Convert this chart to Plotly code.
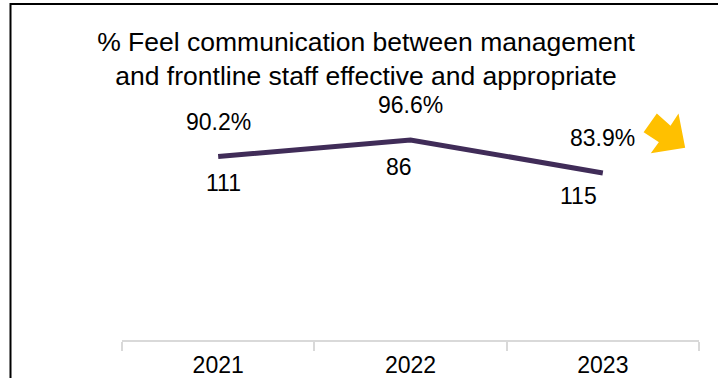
import plotly.graph_objects as go

years = ["2021", "2022", "2023"]
pct_values = [90.2, 96.6, 83.9]
counts = [111, 86, 115]
title_text = "% Feel communication between management<br>and frontline staff effective and appropriate"

# label offsets (pixels) for the count labels
count_dx = [5, -12, -24]
count_dy = [-26, -27, -23]
pct_dy = 35

W, H = 718, 378
L, R, T, B = 122, 19, 50, 38
PW, PH = W - L - R, H - T - B

def px(x):
    return (x - L) / PW

def py(y):
    return (H - B - y) / PH

fig = go.Figure()
fig.add_trace(go.Scatter(
    x=years, y=pct_values, mode="lines",
    line=dict(color="#402C58", width=5),
    hoverinfo="skip", showlegend=False,
))

font = dict(family="Liberation Sans, Arial, sans-serif", color="#000000")

for i, (v, c) in enumerate(zip(pct_values, counts)):
    fig.add_annotation(x=i, y=v, xref="x", yref="y", text=f"{v:.1f}%", showarrow=False,
                       yshift=pct_dy, font=dict(size=23, **font))
    fig.add_annotation(x=i, y=v, xref="x", yref="y", text=str(c), showarrow=False,
                       xshift=count_dx[i], yshift=count_dy[i],
                       font=dict(size=23, **font))

# yellow block arrow (decorative trend icon)
pts = [(645, 132), (660.3, 141.8), (653, 152), (684, 147), (678, 116), (670.7, 127.2), (657, 115)]
path = "M " + " L ".join(f"{px(a):.5f},{py(b):.5f}" for a, b in pts) + " Z"
fig.add_shape(type="path", path=path, xref="paper", yref="paper",
              fillcolor="#FFC000", line=dict(color="#FFC000", width=2), layer="above")

# outer frame (left and top visible)
fig.add_shape(type="rect", xref="paper", yref="paper",
              x0=px(10.5), x1=px(730), y0=py(400), y1=py(4),
              line=dict(color="#000000", width=2), fillcolor="rgba(0,0,0,0)", layer="above")

fig.update_layout(
    width=W, height=H,
    margin=dict(l=L, r=R, t=T, b=B, pad=0, autoexpand=False),
    paper_bgcolor="white", plot_bgcolor="white",
    title=dict(text=title_text, x=366 / W, xref="container", xanchor="center",
               y=1 - 51 / H, yref="container", yanchor="top", automargin=False,
               font=dict(size=26.5, **font)),
    xaxis=dict(type="category", range=[-0.5, 2.5], showgrid=False, zeroline=False,
               automargin=False,
               showline=True, linecolor="#D9D9D9", linewidth=2,
               ticks="outside", tickson="boundaries", ticklen=9, tickcolor="#D9D9D9", tickwidth=2,
               ticklabelstandoff=3,
               tickfont=dict(size=23, **font)),
    yaxis=dict(range=[19.62, 131.2], visible=False, showgrid=False, zeroline=False,
               automargin=False),
)

fig.write_html("out.html")
